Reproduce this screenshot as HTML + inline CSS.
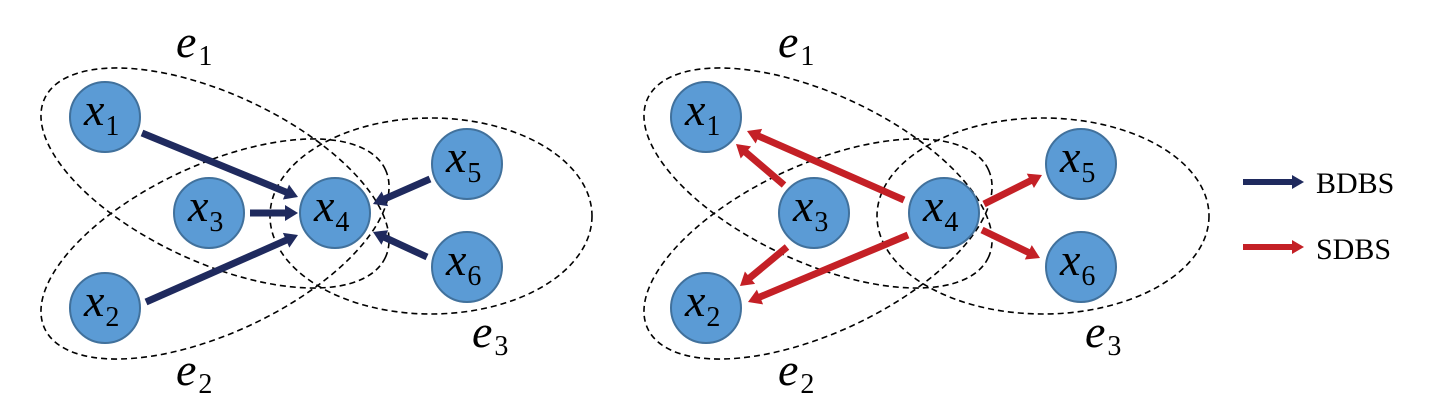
<!DOCTYPE html>
<html><head><meta charset="utf-8"><style>
html,body{margin:0;padding:0;background:#fff;}
svg{display:block;}
.n{fill:#5b9bd5;stroke:#41719c;stroke-width:2;}
.e{fill:none;stroke:#000;stroke-width:1.6;stroke-dasharray:6,4;}
.lx{font-family:"Liberation Serif",serif;font-style:italic;font-size:46px;fill:#000;}
.sb{font-family:"Liberation Serif",serif;font-style:normal;font-size:28px;}
.lg{font-family:"Liberation Serif",serif;font-size:30px;fill:#000;}
</style></head><body>
<svg id="s" width="1443" height="410" viewBox="0 0 1443 410" xmlns="http://www.w3.org/2000/svg">
<ellipse class="e" cx="215" cy="178" rx="188" ry="84" transform="rotate(25 215 178)"/>
<ellipse class="e" cx="215" cy="249" rx="188" ry="84" transform="rotate(-25 215 249)"/>
<ellipse class="e" cx="431" cy="216" rx="161" ry="98"/>
<ellipse class="e" cx="818" cy="178" rx="188" ry="84" transform="rotate(25 818 178)"/>
<ellipse class="e" cx="818" cy="249" rx="188" ry="84" transform="rotate(-25 818 249)"/>
<ellipse class="e" cx="1043" cy="216" rx="166" ry="98"/>
<g id="arrows"></g>
<g id="nodes"></g>
<text class="lx" x="176" y="57" font-size="42">e<tspan class="sb" dx="2" dy="8">1</tspan></text>
<text class="lx" x="176" y="385" font-size="42">e<tspan class="sb" dx="2" dy="8">2</tspan></text>
<text class="lx" x="472" y="347" font-size="42">e<tspan class="sb" dx="2" dy="8">3</tspan></text>
<text class="lx" x="778" y="57" font-size="42">e<tspan class="sb" dx="2" dy="8">1</tspan></text>
<text class="lx" x="778" y="385" font-size="42">e<tspan class="sb" dx="2" dy="8">2</tspan></text>
<text class="lx" x="1085" y="347" font-size="42">e<tspan class="sb" dx="2" dy="8">3</tspan></text>
<text class="lg" x="1316" y="193">BDBS</text>
<text class="lg" x="1316" y="259">SDBS</text>
</svg>
<script>
var NS="http://www.w3.org/2000/svg";
var A=document.getElementById("arrows"),N=document.getElementById("nodes");
function arrow(x1,y1,x2,y2,c,w,hl,hw){
 var dx=x2-x1,dy=y2-y1,L=Math.sqrt(dx*dx+dy*dy),ux=dx/L,uy=dy/L,px=-uy,py=ux;
 var bx=x2-ux*hl,by=y2-uy*hl;
 var l=document.createElementNS(NS,"line");
 l.setAttribute("x1",x1);l.setAttribute("y1",y1);l.setAttribute("x2",bx+ux*1);l.setAttribute("y2",by+uy*1);
 l.setAttribute("stroke",c);l.setAttribute("stroke-width",w);A.appendChild(l);
 var p=document.createElementNS(NS,"polygon");
 p.setAttribute("points",x2+","+y2+" "+(bx+px*hw)+","+(by+py*hw)+" "+(bx-px*hw)+","+(by-py*hw));
 p.setAttribute("fill",c);A.appendChild(p);
}
var B="#1f2a5e",R="#c42026";
arrow(142,133,298,197,B,7,13,8);
arrow(250,213,298,213,B,7,13,8);
arrow(146,302,298,235,B,7,13,8);
arrow(430,179,373,204,B,7,13,8);
arrow(427,257,373,232,B,7,13,8);
arrow(904,200,747,131,R,7,13,8);
arrow(784,185,736,144,R,7,13,8);
arrow(787,247,740,286,R,7,13,8);
arrow(908,235,748,302,R,7,13,8);
arrow(984,204,1042,175,R,7,13,8);
arrow(982,230,1040,258,R,7,13,8);
arrow(1243,182,1304,182,B,6,12,7);
arrow(1243,247,1304,247,R,6,12,7);
function node(cx,cy,k){
 var c=document.createElementNS(NS,"circle");
 c.setAttribute("cx",cx);c.setAttribute("cy",cy);c.setAttribute("r",35);c.setAttribute("class","n");N.appendChild(c);
 var t=document.createElementNS(NS,"text");t.setAttribute("class","lx");
 t.setAttribute("x",cx-21);t.setAttribute("y",cy+8);
 t.innerHTML='x<tspan class="sb" dx="1" dy="10">'+k+'</tspan>';
 t.setAttribute("fill","#000");N.appendChild(t);
}
[[105,117,1],[105,308,2],[209,213,3],[335,213,4],[467,164,5],[467,267,6],
 [706,117,1],[706,308,2],[814,213,3],[944,213,4],[1081,164,5],[1081,267,6]].forEach(function(a){node(a[0],a[1],a[2]);});
</script>
</body></html>
